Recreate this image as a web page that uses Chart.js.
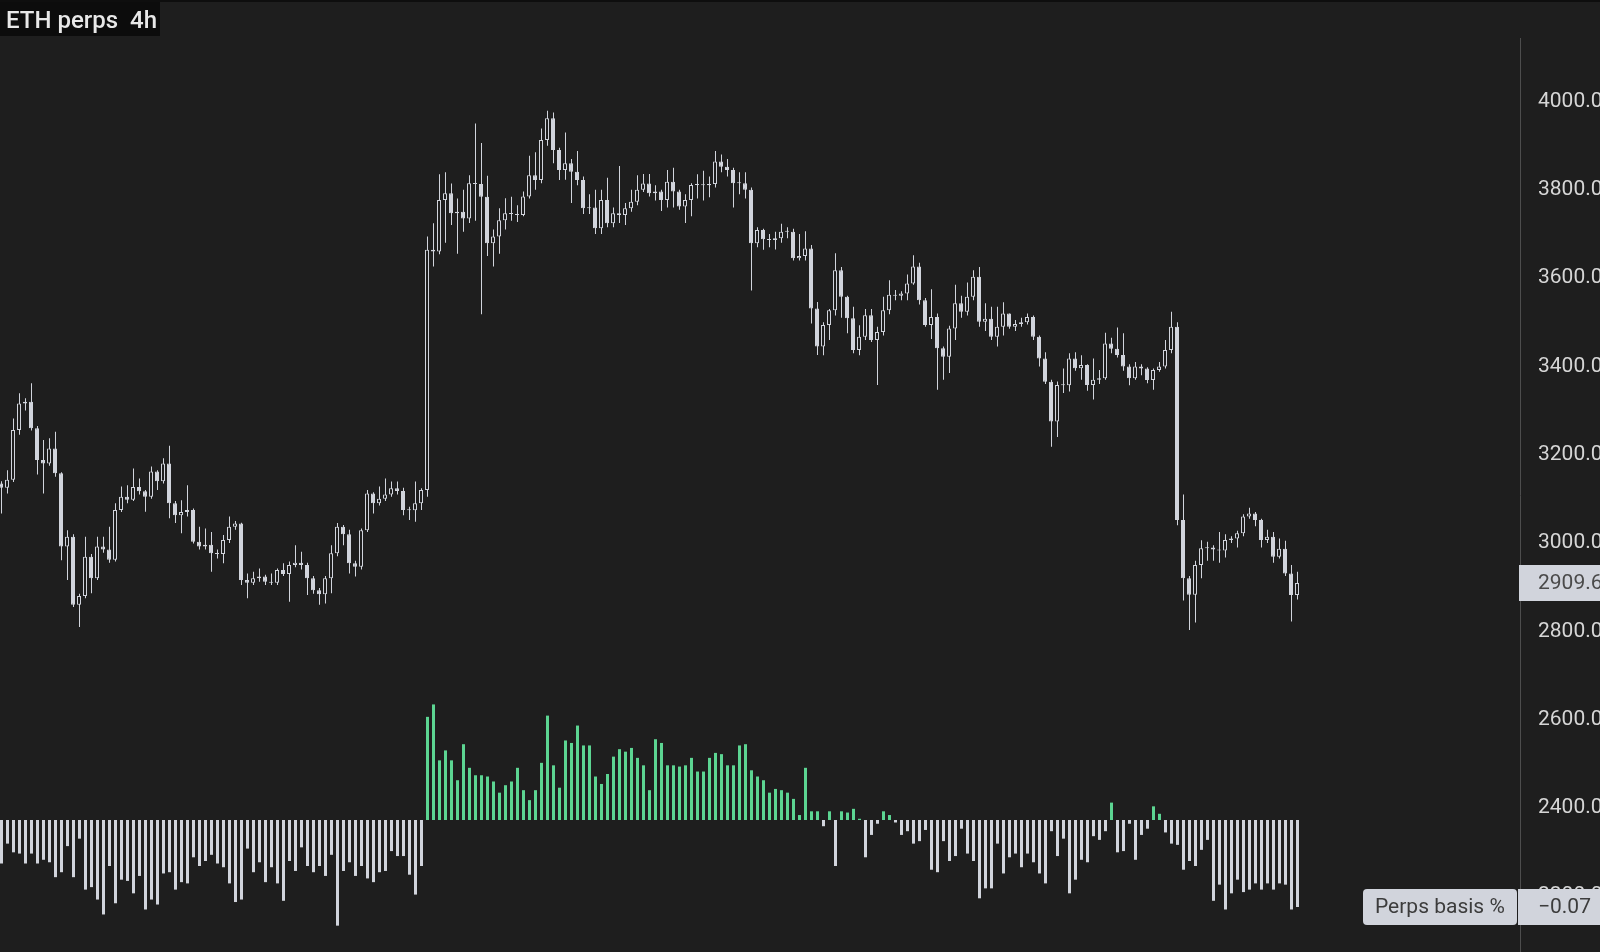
<!DOCTYPE html>
<html>
<head>
<meta charset="utf-8">
<script src="https://cdn.jsdelivr.net/npm/chart.js@4.4.1/dist/chart.umd.min.js"></script>
<style>
html,body{margin:0;padding:0;background:#1e1e1e;overflow:hidden}
canvas{display:block}
</style>
</head>
<body>
<canvas id="c" width="1600" height="952"></canvas>
<script>
// ---------------- data ----------------
const chartTitle = 'ETH perps  4h';
const basisName = 'Perps basis %';

const opens = [
3135,3125,3143,3256,3316,3320,3260,3188,3180,3214,
3158,2992,3014,2860,2880,2969,2920,2992,2985,2962,
3075,3105,3098,3127,3117,3105,3162,3140,3180,3090,
3063,3070,3075,3003,2992,2996,2977,2975,3007,3037,
3044,2916,2910,2920,2924,2912,2910,2939,2930,2950,
2955,2950,2920,2893,2884,2920,2977,3037,3020,2954,
2946,3029,3112,3090,3100,3110,3124,3118,3075,3074,
3090,3120,3664,3660,3777,3792,3747,3750,3735,3815,
3813,3784,3679,3694,3731,3747,3745,3743,3785,3833,
3822,3913,3962,3890,3845,3860,3841,3822,3758,3760,
3713,3777,3724,3747,3743,3758,3773,3800,3814,3792,
3796,3777,3818,3796,3762,3777,3811,3811,3810,3813,
3864,3852,3845,3815,3815,3800,3679,3709,3688,3686,
3690,3705,3705,3645,3650,3667,3531,3445,3494,3527,
3618,3558,3509,3437,3467,3516,3460,3478,3527,3562,
3560,3565,3588,3626,3550,3494,3512,3441,3422,3486,
3543,3524,3558,3603,3501,3508,3467,3490,3520,3490,
3496,3500,3512,3467,3418,3365,3275,3358,3357,3418,
3396,3403,3358,3370,3373,3452,3440,3426,3400,3373,
3400,3395,3369,3392,3400,3437,3490,3052,2920,2883,
2950,2988,2990,2985,2983,3007,3010,3022,3060,3067,
3052,3007,3014,2969,2987,2931,2882
];
const closes = [
3125,3143,3256,3316,3320,3260,3188,3180,3214,3158,
2992,3014,2860,2880,2969,2920,2992,2985,2962,3075,
3105,3098,3127,3117,3105,3162,3140,3180,3090,3063,
3070,3075,3003,2992,2996,2977,2975,3007,3037,3044,
2916,2910,2920,2924,2912,2910,2939,2930,2950,2955,
2950,2920,2893,2884,2920,2977,3037,3020,2954,2946,
3029,3112,3090,3100,3110,3124,3118,3075,3074,3090,
3120,3664,3660,3777,3792,3747,3750,3735,3815,3813,
3784,3679,3694,3731,3747,3745,3743,3785,3833,3822,
3913,3962,3890,3845,3860,3841,3822,3758,3760,3713,
3777,3724,3747,3743,3758,3773,3800,3814,3792,3796,
3777,3818,3796,3762,3777,3811,3811,3810,3813,3864,
3852,3845,3815,3815,3800,3679,3709,3688,3686,3690,
3705,3705,3645,3650,3667,3531,3445,3494,3527,3618,
3558,3509,3437,3467,3516,3460,3478,3527,3562,3560,
3565,3588,3626,3550,3494,3512,3441,3422,3486,3543,
3524,3558,3603,3501,3508,3467,3490,3520,3490,3496,
3500,3512,3467,3418,3365,3275,3358,3357,3418,3396,
3403,3358,3370,3373,3452,3440,3426,3400,3373,3400,
3395,3369,3392,3400,3437,3490,3052,2920,2883,2950,
2988,2990,2985,2983,3007,3010,3022,3060,3067,3052,
3007,3014,2969,2987,2931,2882,2909.6
];
const highs = [
3140,3165,3282,3339,3328,3362,3265,3233,3237,3252,
3160,3029,3020,2885,3014,2975,3014,3014,3037,3090,
3128,3131,3169,3146,3120,3173,3165,3192,3220,3095,
3097,3131,3078,3037,3033,3025,2985,3018,3060,3050,
3046,2931,2935,2942,2928,2931,2942,2954,2958,2995,
2980,2955,2925,2898,2925,2995,3045,3041,3030,2960,
3033,3120,3115,3128,3146,3139,3139,3125,3082,3139,
3124,3694,3724,3835,3840,3814,3780,3800,3833,3950,
3906,3832,3710,3758,3781,3784,3765,3796,3877,3885,
3939,3979,3975,3895,3930,3870,3888,3830,3790,3800,
3800,3827,3760,3854,3770,3800,3833,3836,3836,3810,
3800,3845,3850,3800,3790,3815,3835,3843,3830,3888,
3880,3870,3850,3840,3840,3805,3715,3712,3700,3705,
3723,3715,3712,3700,3706,3675,3546,3500,3530,3656,
3625,3560,3535,3493,3530,3530,3490,3558,3595,3573,
3570,3608,3652,3635,3555,3575,3520,3445,3492,3585,
3560,3590,3618,3625,3543,3535,3535,3545,3520,3505,
3510,3520,3515,3470,3432,3370,3366,3395,3430,3432,
3425,3405,3418,3392,3476,3465,3488,3475,3405,3410,
3405,3398,3395,3410,3460,3524,3500,3110,2925,2960,
3006,3003,2995,3025,3020,3015,3028,3065,3080,3070,
3055,3030,3025,3010,3005,2950,2935
];
const lows = [
3067,3112,3138,3245,3300,3255,3155,3112,3175,3150,
2961,2916,2855,2810,2875,2886,2916,2978,2955,2958,
3070,3090,3095,3110,3071,3100,3120,3135,3056,3045,
3022,3060,2999,2985,2985,2935,2965,2954,3000,3030,
2905,2875,2905,2912,2905,2905,2905,2925,2867,2945,
2940,2882,2885,2860,2863,2886,2970,2995,2931,2924,
2940,3025,3067,3085,3095,3105,3110,3063,3052,3048,
3075,3105,3626,3654,3680,3720,3655,3705,3725,3730,
3518,3650,3626,3655,3710,3730,3727,3740,3780,3800,
3815,3900,3860,3822,3823,3770,3810,3745,3745,3700,
3700,3715,3715,3725,3720,3750,3765,3795,3785,3776,
3752,3760,3760,3755,3725,3740,3780,3776,3783,3805,
3840,3830,3760,3790,3780,3572,3670,3664,3670,3665,
3680,3690,3640,3640,3640,3497,3426,3425,3460,3515,
3510,3475,3430,3425,3460,3455,3358,3470,3518,3550,
3550,3550,3585,3540,3490,3462,3347,3370,3385,3460,
3510,3515,3550,3490,3480,3460,3445,3470,3485,3480,
3490,3495,3460,3400,3360,3218,3240,3340,3343,3390,
3370,3345,3325,3360,3370,3430,3420,3390,3357,3370,
3380,3362,3347,3388,3395,3430,3040,2870,2803,2820,
2920,2960,2960,2955,2967,3000,2990,3015,3055,3038,
2990,3000,2955,2965,2925,2822,2872
];
const basis = [
-0.035,-0.019,-0.026,-0.027,-0.035,-0.027,-0.035,-0.032,-0.034,-0.046,
-0.042,-0.021,-0.046,-0.015,-0.056,-0.054,-0.064,-0.076,-0.037,-0.067,
-0.048,-0.049,-0.059,-0.045,-0.072,-0.064,-0.068,-0.043,-0.042,-0.056,
-0.050,-0.051,-0.030,-0.037,-0.033,-0.028,-0.035,-0.038,-0.051,-0.066,
-0.064,-0.023,-0.042,-0.034,-0.050,-0.038,-0.051,-0.065,-0.033,-0.041,
-0.022,-0.037,-0.042,-0.037,-0.045,-0.028,-0.085,-0.041,-0.034,-0.045,
-0.037,-0.047,-0.050,-0.042,-0.041,-0.025,-0.029,-0.029,-0.044,-0.060,
-0.037,0.083,0.093,0.048,0.056,0.048,0.032,0.061,0.042,0.036,
0.036,0.035,0.031,0.022,0.028,0.031,0.042,0.024,0.016,0.024,
0.046,0.084,0.044,0.026,0.064,0.062,0.076,0.060,0.060,0.035,
0.029,0.037,0.051,0.057,0.055,0.058,0.050,0.044,0.024,0.065,
0.062,0.044,0.044,0.043,0.044,0.050,0.039,0.039,0.050,0.054,
0.053,0.044,0.044,0.060,0.061,0.040,0.035,0.032,0.022,0.025,
0.024,0.022,0.017,0.004,0.042,0.007,0.007,-0.005,0.007,-0.037,
0.007,0.006,0.009,0.001,-0.030,-0.012,-0.003,0.007,0.004,-0.002,
-0.012,-0.009,-0.019,-0.017,-0.008,-0.040,-0.042,-0.017,-0.033,-0.029,
-0.007,-0.027,-0.033,-0.063,-0.055,-0.055,-0.019,-0.043,-0.030,-0.027,
-0.038,-0.027,-0.034,-0.043,-0.051,-0.009,-0.029,-0.015,-0.059,-0.048,
-0.032,-0.034,-0.013,-0.016,-0.009,0.014,-0.026,-0.025,-0.003,-0.032,
-0.012,-0.007,0.011,0.005,-0.010,-0.019,-0.020,-0.040,-0.033,-0.037,
-0.024,-0.016,-0.065,-0.052,-0.072,-0.059,-0.048,-0.058,-0.056,-0.051,
-0.056,-0.051,-0.056,-0.051,-0.052,-0.072,-0.070
];
const priceTicks = [2200,2400,2600,2800,3000,3200,3400,3600,3800,4000];

// ---------------- layout / style ----------------
const W = 1600, H = 952;
const AXIS_W = 80;
const AREA_TOP = 38;
const SLOT = 6;                         // px per candle
const AREA_W = W - AXIS_W;
const X_MIN = -1 / SLOT;
const X_MAX = X_MIN + AREA_W / SLOT;
const PRICE_MAX = 4143.8, PRICE_MIN = 2073.6;
const BASIS_MAX = 0.6292, BASIS_MIN = -0.1062;

const BG = '#1e1e1e';
const LIGHT = '#d1d4dc';
const GREEN = '#5cd592';
const FONT = "Roboto, 'Liberation Sans', sans-serif";

const idx = closes.map((_, i) => i);
const last = closes.length - 1;

const bodies = idx.map(i => ({x: i, y: [opens[i], closes[i]]}));
const wicks = idx.map(i => ({x: i, y: [lows[i], highs[i]]}));
const basisPts = idx.map(i => ({x: i, y: basis[i]}));

const overlay = {
  id: 'overlay',
  beforeDraw(chart) {
    const ctx = chart.ctx;
    ctx.save();
    ctx.fillStyle = BG;
    ctx.fillRect(0, 0, chart.width, chart.height);
    ctx.restore();
  },
  afterDraw(chart) {
    const ctx = chart.ctx;
    const sy = chart.scales.y, sb = chart.scales.y2;
    ctx.save();
    // top strip + title
    ctx.fillStyle = '#0e0e0e';
    ctx.fillRect(0, 0, chart.width, 2);
    ctx.fillStyle = '#0c0c0c';
    ctx.fillRect(0, 2, 160, 34);
    ctx.fillStyle = '#e8e8e8';
    ctx.font = '500 24px ' + FONT;
    ctx.textBaseline = 'alphabetic';
    ctx.textAlign = 'left';
    ctx.fillText(chartTitle, 6, 28);
    // last price label
    const yp = sy.getPixelForValue(closes[last]);
    ctx.fillStyle = LIGHT;
    ctx.fillRect(AREA_W - 1, Math.round(yp) - 18, AXIS_W + 1, 36);
    ctx.fillStyle = '#4a4a4a';
    ctx.font = '21px ' + FONT;
    ctx.textBaseline = 'middle';
    ctx.fillText(closes[last].toFixed(2), AREA_W + 18, yp + 1);
    // basis labels
    const yb = Math.round(sb.getPixelForValue(basis[last]));
    ctx.fillStyle = LIGHT;
    ctx.beginPath();
    ctx.roundRect(1363, yb - 18, 154, 36, 4);
    ctx.fill();
    ctx.fillRect(AREA_W - 2, yb - 18, AXIS_W + 2, 36);
    ctx.fillStyle = '#3c3c3c';
    ctx.fillText(basisName, 1375, yb + 1);
    const bv = basis[last];
    ctx.fillText((bv < 0 ? '\u2212' : '') + Math.abs(bv).toFixed(2), AREA_W + 18, yb + 1);
    ctx.restore();
  }
};

new Chart(document.getElementById('c'), {
  type: 'bar',
  data: {
    datasets: [
      {
        label: 'body',
        data: bodies,
        xAxisID: 'x', yAxisID: 'y',
        order: 0,
        grouped: false,
        barThickness: 4,
        minBarLength: 1,
        borderWidth: 1,
        borderSkipped: false,
        inflateAmount: 0,
        borderColor: LIGHT,
        backgroundColor: idx.map(i => closes[i] >= opens[i] ? BG : LIGHT)
      },
      {
        label: 'wick',
        data: wicks,
        xAxisID: 'x2', yAxisID: 'y',
        order: 1,
        grouped: false,
        barThickness: 1,
        borderWidth: 0,
        inflateAmount: 0,
        backgroundColor: LIGHT
      },
      {
        label: basisName,
        data: basisPts,
        xAxisID: 'x2', yAxisID: 'y2',
        order: 2,
        grouped: false,
        barThickness: 3,
        borderWidth: 0,
        inflateAmount: 0,
        backgroundColor: idx.map(i => basis[i] >= 0 ? GREEN : LIGHT)
      }
    ]
  },
  options: {
    responsive: false,
    devicePixelRatio: 1,
    animation: false,
    events: [],
    layout: {padding: {top: AREA_TOP, left: 0, right: 0, bottom: 0}},
    plugins: {legend: {display: false}, tooltip: {enabled: false}},
    scales: {
      x: {type: 'linear', axis: 'x', display: false, offset: false, min: X_MIN, max: X_MAX,
          grid: {display: false}},
      x2: {type: 'linear', axis: 'x', display: false, offset: false,
           min: X_MIN - 0.5 / SLOT, max: X_MAX - 0.5 / SLOT, grid: {display: false}},
      y: {
        type: 'linear', axis: 'y', position: 'right',
        min: PRICE_MIN, max: PRICE_MAX,
        grid: {display: false, drawTicks: false},
        border: {display: true, color: '#4d4d4d', width: 1},
        afterBuildTicks: s => { s.ticks = priceTicks.map(v => ({value: v})); },
        afterFit: s => { s.width = AXIS_W; s.paddingTop = 0; s.paddingBottom = 0; },
        ticks: {
          autoSkip: false,
          padding: 18,
          color: '#d6d6d6',
          font: {family: FONT, size: 21},
          callback: v => Number(v).toFixed(2)
        }
      },
      y2: {type: 'linear', axis: 'y', display: false, position: 'left',
           min: BASIS_MIN, max: BASIS_MAX, grid: {display: false}}
    }
  },
  plugins: [overlay]
});
</script>
</body>
</html>
